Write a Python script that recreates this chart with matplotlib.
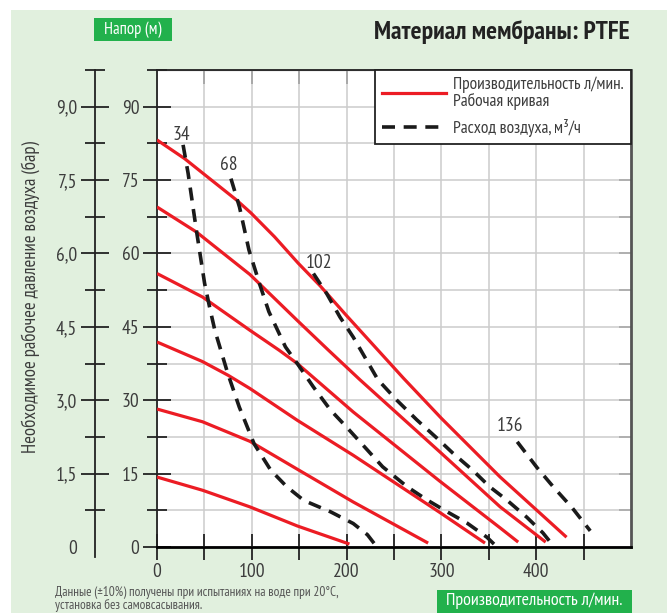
import numpy as np
import matplotlib
matplotlib.use("Agg")
import matplotlib.pyplot as plt
from matplotlib.patches import Rectangle
from matplotlib.lines import Line2D

plt.rcParams["font.family"] = ["PT Sans Narrow", "Roboto Condensed", "DejaVu Sans"]

# Рабочие кривые: производительность (л/мин) -> напор (м)
c1_flow = [0, 29, 49, 84, 99, 124, 149, 172, 199, 260, 300, 362, 432]
c1_head = [83.2, 79.4, 76.3, 70.9, 68.3, 63.4, 58, 53.4, 47.5, 34.5, 26.3, 14.3, 2]
c2_flow = [0, 41.5, 98, 148, 181, 214, 298, 362, 410]
c2_head = [69.5, 64.4, 55.7, 46.3, 40.2, 34.2, 19.5, 8.2, 1]
c3_flow = [0, 48, 98, 129, 148, 207, 298, 362, 381]
c3_head = [55.9, 51.1, 44.3, 40.2, 37.5, 27.6, 13.5, 3.9, 1]
c4_flow = [0, 48, 75, 98, 148, 207, 298, 346]
c4_head = [41.9, 37.9, 35.1, 32.4, 25.9, 18.75, 7.1, 0.8]
c5_flow = [0, 48, 98, 148, 207, 286]
c5_head = [28.2, 25.6, 21.6, 15.9, 9.2, 0.8]
c6_flow = [0, 48, 98, 148, 203]
c6_head = [14.3, 11.6, 8.2, 4.3, 0.6]
work_curves = [(c1_flow, c1_head), (c2_flow, c2_head), (c3_flow, c3_head),
               (c4_flow, c4_head), (c5_flow, c5_head), (c6_flow, c6_head)]

# Расход воздуха (м3/ч)
a34_flow = [27.5, 32.8, 41.5, 50.2, 55.4, 61, 74.6, 86.8, 102.4, 120, 137, 155, 183, 207, 222, 230]
a34_head = [82.2, 76.4, 64.8, 53.9, 49.1, 44.3, 35.5, 28.6, 21.1, 15.7, 12.3, 9.5, 7.2, 4.8, 2.5, 0.5]
a68_flow = [78, 87, 97, 108, 118, 135.5, 148, 165, 183, 200, 238, 264, 285, 306, 327, 348, 356]
a68_head = [75.3, 69.5, 60.7, 53.9, 48.1, 40.9, 37.5, 32.7, 28, 24.5, 16.4, 12.3, 9.6, 7.2, 4.9, 2.0, 0.5]
a102_flow = [165, 179, 193, 207, 233, 253, 274, 295, 312, 333, 351, 369, 390, 407, 417]
a102_head = [55.9, 51.8, 47, 42.9, 34.2, 30, 26, 22.3, 19.2, 15.7, 12.3, 9.6, 6.1, 2.9, 0.5]
a136_flow = [380, 401, 418, 438, 457]
a136_head = [21.5, 16.2, 12.3, 8.0, 3.3]
air_curves = [(a34_flow, a34_head), (a68_flow, a68_head),
              (a102_flow, a102_head), (a136_flow, a136_head)]
air_labels = ["34", "68", "102", "136"]
air_label_pos = [(26, 82.4), (76, 76.2), (171, 56.3), (372, 22.8)]

x_ticks = [0, 100, 200, 300, 400]
y_ticks = [0, 15, 30, 45, 60, 75, 90]
bar_ticks = [0, 1.5, 3.0, 4.5, 6.0, 7.5, 9.0]
bar_labels = ["0", "1,5", "3,0", "4,5", "6,0", "7,5", "9,0"]

RED = "#ec1c24"
GREEN_BG = "#e1f0de"
GREEN = "#22b14c"
TXT = "#3c3c3c"

fig = plt.figure(figsize=(6.67, 6.13), dpi=100, facecolor="white")
fig.patches.append(Rectangle((11 / 667, 0), 1, 603 / 613, transform=fig.transFigure,
                             facecolor=GREEN_BG, edgecolor="none", zorder=-10))

ax = fig.add_axes([157 / 667, 1 - 547 / 613, 474 / 667, 477 / 613])
ax.set_facecolor("white")
ax.set_xlim(0, 500)
ax.set_ylim(0, 97.5)

for fl, hd in work_curves:
    ax.plot(fl, hd, color=RED, lw=2.3, solid_capstyle="butt", solid_joinstyle="round", zorder=3)
for fl, hd in air_curves:
    ax.plot(fl, hd, color="#1a1a1a", lw=2.6, dashes=(3.6, 2.4), zorder=4)
for lab, (x, y) in zip(air_labels, air_label_pos):
    ax.text(x, y, lab, ha="center", va="bottom", fontsize=14, color=TXT, zorder=5)

# сетка
ax.set_xticks(x_ticks)
ax.set_xticks(np.arange(50, 501, 100), minor=True)
ax.set_yticks(y_ticks)
ax.set_yticks(np.arange(7.5, 98, 15), minor=True)
ax.grid(True, which="both", color="#cccccc", lw=1.1, zorder=0)
ax.set_axisbelow(True)

ax.tick_params(axis="x", which="both", direction="inout", length=19, width=1.3,
               color="#222222", labelsize=14, labelcolor=TXT, pad=2)
ax.tick_params(axis="y", which="major", direction="inout", length=19.5, width=1.3,
               color="#222222", labelsize=14, labelcolor=TXT, pad=3)
ax.tick_params(axis="y", which="minor", direction="inout", length=14, width=1.3,
               color="#222222")

for s in ["left", "top"]:
    ax.spines[s].set_color("#222222")
    ax.spines[s].set_linewidth(1.3)
ax.spines["bottom"].set_color("black")
ax.spines["bottom"].set_linewidth(2)
ax.spines["right"].set_color("#555555")
ax.spines["right"].set_linewidth(2)

top = ax.secondary_xaxis("top")
top.set_xticks(np.arange(50, 501, 50))
top.tick_params(direction="in", length=10, width=1.3, color="#222222", labeltop=False)
top.spines["top"].set_color("#222222")

right = ax.secondary_yaxis("right")
right.set_yticks(np.arange(7.5, 98, 7.5))
right.tick_params(direction="in", length=9, width=1.3, color="#444444", labelright=False)
right.spines["right"].set_visible(False)

# шкала давления воздуха (бар)
bar = ax.secondary_yaxis(-0.1308, functions=(lambda y: y / 10, lambda b: b * 10))
bar.set_yticks(bar_ticks)
bar.set_yticklabels(bar_labels)
bar.set_yticks(np.arange(0.75, 9.8, 1.5), minor=True)
bar.tick_params(which="major", direction="inout", length=20, width=1.3, color="#222222",
                labelsize=14, labelcolor=TXT, pad=3)
bar.tick_params(which="minor", direction="inout", length=14, width=1.3, color="#222222")
bar.spines["left"].set_color("#222222")
bar.spines["left"].set_linewidth(1.3)
bar.spines["left"].set_bounds(-0.2, 9.75)
bar.yaxis.get_major_ticks()[0].tick1line.set_visible(False)

fig.text(31 / 667, 1 - 297 / 613, "Необходимое рабочее давление воздуха (бар)",
         rotation=90, ha="center", va="center", fontsize=13.5, color=TXT)

# легенда
handles = [Line2D([], [], color=RED, lw=2.3),
           Line2D([], [], color="#1a1a1a", lw=2.6, dashes=(3.6, 2.4))]
leg = ax.legend(handles, ["Производительность л/мин.\nРабочая кривая", "Расход воздуха, м³/ч"],
                loc="upper right", bbox_to_anchor=(1, 1), borderaxespad=0, fancybox=False,
                framealpha=1, edgecolor="#222222", fontsize=12.5, handlelength=3.7,
                handletextpad=0.4, labelspacing=0.55, borderpad=0.4)
leg.get_frame().set_linewidth(1.3)
for t in leg.get_texts():
    t.set_color(TXT)
    t.set_linespacing(0.95)

fig.text(630 / 667, 1 - 32 / 613, "Материал мембраны: PTFE", ha="right", va="center",
         fontsize=18.5, fontweight="bold", color="#222222")

# зелёные плашки
fig.patches.append(Rectangle((94 / 667, 1 - 41 / 613), 78 / 667, 23 / 613,
                             transform=fig.transFigure, facecolor=GREEN, edgecolor="none"))
fig.text(133 / 667, 1 - 29.5 / 613, "Напор (м)", ha="center", va="center",
         fontsize=12, color="white")
fig.patches.append(Rectangle((437 / 667, 0), 195 / 667, 23 / 613,
                             transform=fig.transFigure, facecolor=GREEN, edgecolor="none"))
fig.text(534.5 / 667, 1 - 601 / 613, "Производительность л/мин.", ha="center", va="center",
         fontsize=13, color="white")

fig.text(55 / 667, 1 - 586 / 613, "Данные (±10%) получены при испытаниях на воде при 20°C,\nустановка без самовсасывания.",
         ha="left", va="top", fontsize=9.5, color="#555555", linespacing=1.0)

fig.savefig("out.png", dpi=100, facecolor=fig.get_facecolor())
